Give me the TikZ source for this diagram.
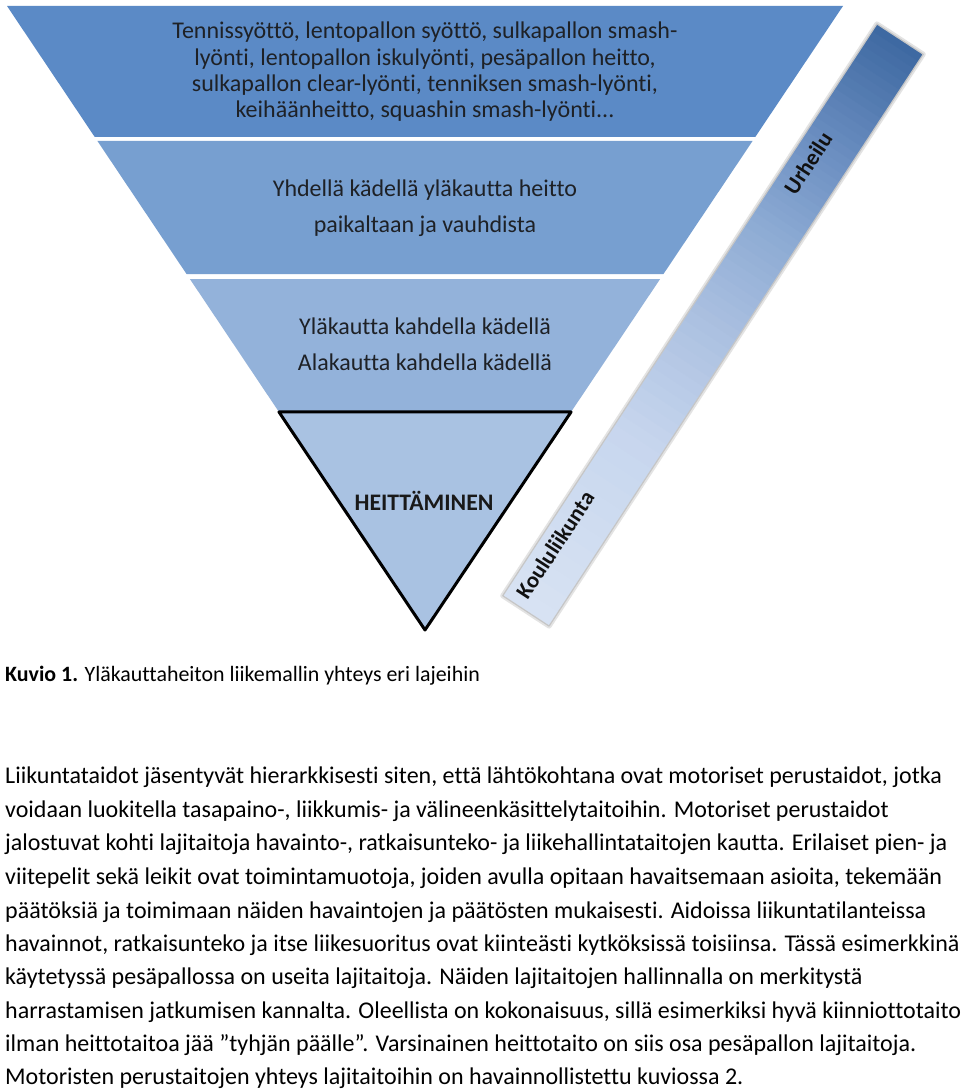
\documentclass[tikz,border=0pt]{standalone}
\usepackage{fontspec}
\setmainfont{Carlito}[Ligatures=NoCommon]
\usetikzlibrary{calc}
\definecolor{bandA}{HTML}{5B8AC6}
\definecolor{bandB}{HTML}{779FD0}
\definecolor{bandC}{HTML}{93B2DA}
\definecolor{bandD}{HTML}{A9C2E2}
\definecolor{bartxt}{HTML}{111111}
\definecolor{bandtxt}{HTML}{1E2126}
\definecolor{barA}{HTML}{D8E3F3}
\definecolor{barB}{HTML}{C7D6EE}
\definecolor{barC}{HTML}{ABC0E0}
\definecolor{barD}{HTML}{8DABD4}
\definecolor{barE}{HTML}{6D90C2}
\definecolor{barF}{HTML}{3D68A1}
\newcommand{\barseg}[5]{%
  \foreach \bsI in {1,...,#5}{%
    \pgfmathsetmacro{\bsA}{#1+(#2-#1)*(\bsI-1)/#5}%
    \pgfmathsetmacro{\bsB}{min(#1+(#2-#1)*\bsI/#5+0.0015,1)}%
    \pgfmathsetmacro{\bsP}{100*(\bsI-0.5)/#5}%
    \colorlet{stripcol}{#4!\bsP!#3}%
    \fill[stripcol] ($(bar.south west)!\bsA!(bar.south east)$) -- ($(bar.south west)!\bsB!(bar.south east)$) -- ($(bar.north west)!\bsB!(bar.north east)$) -- ($(bar.north west)!\bsA!(bar.north east)$) -- cycle;
  }}
\tikzset{
  bandtext/.style={font=\fontsize{24}{28}\selectfont, text=bandtxt, inner sep=0pt, anchor=base},
  bartext/.style={font=\bfseries\fontsize{22.5}{26}\selectfont, text=bartxt, inner sep=0pt, rotate=56.8},
  paratext/.style={font=\fontsize{24}{28}\selectfont, text=black, inner sep=0pt, anchor=base west},
}
\begin{document}
\begin{tikzpicture}[x=1pt,y=-1pt]
\useasboundingbox[fill=white] (0,0) rectangle (960,1091);
% outline of the inverted triangle
\coordinate (TL) at (7,6);
\coordinate (TR) at (843,6);
\coordinate (A) at (425,630);
% band 1
\fill[bandA] (TL) -- (TR) -- ($(TR)!0.2099!(A)$) -- ($(TL)!0.2099!(A)$) -- cycle;
% band 2
\fill[bandB] ($(TL)!0.2163!(A)$) -- ($(TR)!0.2163!(A)$) -- ($(TR)!0.4295!(A)$) -- ($(TL)!0.4295!(A)$) -- cycle;
% band 3
\fill[bandC] ($(TL)!0.4375!(A)$) -- ($(TR)!0.4375!(A)$) -- ($(TR)!0.6490!(A)$) -- ($(TL)!0.6490!(A)$) -- cycle;
% band 4 (triangle)
\filldraw[fill=bandD, draw=black, line width=3pt, line join=round] ($(TL)!0.6506!(A)$) -- ($(TR)!0.6506!(A)$) -- (A) -- cycle;

% texts in bands
\node[bandtext] (t1) at (425,39) {Tennissyöttö, lentopallon syöttö, sulkapallon smash-};
\node[bandtext] (t2) at (425,65.5) {lyönti, lentopallon iskulyönti, pesäpallon heitto,};
\node[bandtext] (t3) at (425,91.5) {sulkapallon clear-lyönti, tenniksen smash-lyönti,};
\node[bandtext] (t4) at (425,117.5) {keihäänheitto, squashin smash-lyönti...};
\node[bandtext] (t5) at (425,197) {Yhdellä kädellä yläkautta heitto};
\node[bandtext] (t6) at (425,233) {paikaltaan ja vauhdista};
\node[bandtext] (t7) at (425,334) {Yläkautta kahdella kädellä};
\node[bandtext] (t8) at (425,370) {Alakautta kahdella kädellä};
\node[bandtext, font=\bfseries\fontsize{23.7}{28}\selectfont, text=black!90] (t9) at (424,510) {HEITTÄMINEN};

% slanted bar
\node[rotate=56.8, minimum width=683pt, minimum height=55pt, inner sep=0pt] (bar) at (713,325) {};
\draw[gray!22, line width=5pt, line join=round] (bar.south west) -- (bar.south east) -- (bar.north east) -- (bar.north west) -- cycle;
\barseg{0}{0.3}{barA}{barB}{12}
\barseg{0.3}{0.5}{barB}{barC}{12}
\barseg{0.5}{0.66}{barC}{barD}{12}
\barseg{0.66}{0.8}{barD}{barE}{12}
\barseg{0.8}{1}{barE}{barF}{16}
\draw[gray!45, line width=1.2pt, line join=round] (bar.south west) -- (bar.south east) -- (bar.north east) -- (bar.north west) -- cycle;
\node[bartext] (urh) at (808,163) {Urheilu};
\node[bartext] (kou) at (555,545) {Koululiikunta};

% caption
\node[paratext, font=\fontsize{21.9}{26}\selectfont] (cap) at (5,681) {\textbf{Kuvio 1.} Yläkauttaheiton liikemallin yhteys eri lajeihin};

% paragraph
\node[paratext] (p1) at (5,783) {Liikuntataidot jäsentyvät hierarkkisesti siten, että lähtökohtana ovat motoriset perustaidot, jotka};
\node[paratext] (p2) at (5,817) {voidaan luokitella tasapaino-, liikkumis- ja välineenkäsittelytaitoihin. Motoriset perustaidot};
\node[paratext] (p3) at (5,850) {jalostuvat kohti lajitaitoja havainto-, ratkaisunteko- ja liikehallintataitojen kautta. Erilaiset pien- ja};
\node[paratext] (p4) at (5,884) {viitepelit sekä leikit ovat toimintamuotoja, joiden avulla opitaan havaitsemaan asioita, tekemään};
\node[paratext] (p5) at (5,918) {päätöksiä ja toimimaan näiden havaintojen ja päätösten mukaisesti. Aidoissa liikuntatilanteissa};
\node[paratext] (p6) at (5,951) {havainnot, ratkaisunteko ja itse liikesuoritus ovat kiinteästi kytköksissä toisiinsa. Tässä esimerkkinä};
\node[paratext] (p7) at (5,984) {käytetyssä pesäpallossa on useita lajitaitoja. Näiden lajitaitojen hallinnalla on merkitystä};
\node[paratext] (p8) at (5,1018) {harrastamisen jatkumisen kannalta. Oleellista on kokonaisuus, sillä esimerkiksi hyvä kiinniottotaito};
\node[paratext] (p9) at (5,1051) {ilman heittotaitoa jää ”tyhjän päälle”. Varsinainen heittotaito on siis osa pesäpallon lajitaitoja.};
\node[paratext] (p10) at (5,1084) {Motoristen perustaitojen yhteys lajitaitoihin on havainnollistettu kuviossa 2.};
\end{tikzpicture}
\end{document}
